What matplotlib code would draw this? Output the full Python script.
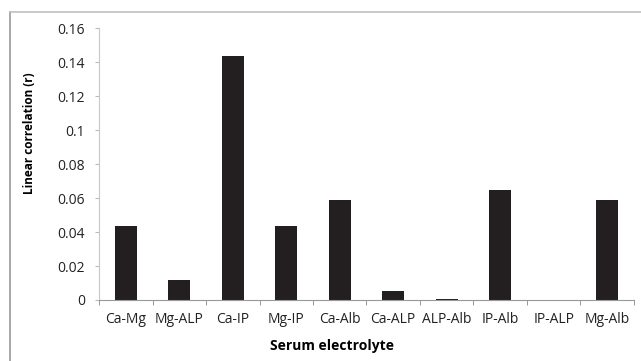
import matplotlib
matplotlib.use('Agg')
import matplotlib.pyplot as plt
from matplotlib.lines import Line2D
import numpy as np

pairs = ['Ca-Mg', 'Mg-ALP', 'Ca-IP', 'Mg-IP', 'Ca-Alb', 'Ca-ALP',
         'ALP-Alb', 'IP-Alb', 'IP-ALP', 'Mg-Alb']
corr_r = [0.0435, 0.0118, 0.1435, 0.0435, 0.0588, 0.0053,
          0.0005, 0.065, 0.0, 0.0588]
yticks = [0, 0.02, 0.04, 0.06, 0.08, 0.1, 0.12, 0.14, 0.16]
ylabels = ['0', '0.02', '0.04', '0.06', '0.08', '0.1', '0.12', '0.14', '0.16']

plt.rcParams['font.family'] = ['Open Sans', 'DejaVu Sans']

fig = plt.figure(figsize=(6.41, 3.61), dpi=100)
ax = fig.add_axes([0.1545, 0.169, 0.8345, 0.753])

x = np.arange(len(pairs))
ax.bar(x, corr_r, width=0.41, color='#231f20', linewidth=0)

ax.set_xlim(-0.5, len(pairs) - 0.5)
ax.set_ylim(0, 0.16)
ax.set_yticks(yticks)
ax.set_yticklabels(ylabels, fontsize=10, color='#222222')
ax.set_xticks(x)
ax.set_xticklabels(pairs, fontsize=10, color='#222222')
ax.set_xticks(np.arange(len(pairs) + 1) - 0.5, minor=True)
ax.tick_params(axis='x', which='major', length=0, pad=9)
ax.tick_params(axis='x', which='minor', length=3.5, color='#888888')
ax.tick_params(axis='y', length=3, color='#bbbbbb', pad=7)

for s in ['top', 'right']:
    ax.spines[s].set_visible(False)
ax.spines['left'].set_color('#c8c8c8')
ax.spines['bottom'].set_color('#999999')

ax.set_ylabel('Linear correlation (r)', fontsize=8.5, fontweight='bold')
ax.yaxis.set_label_coords(-0.118, 0.614)
ax.set_xlabel('Serum electrolyte', fontsize=10, fontweight='bold')
ax.xaxis.set_label_coords(0.436, -0.145)

# outer frame (top and left only)
fig.add_artist(Line2D([10/641, 10/641], [0, 1 - 12/361], transform=fig.transFigure,
                      color='#9a9a9a', lw=1.2))
fig.add_artist(Line2D([10/641, 1], [1 - 12/361, 1 - 12/361], transform=fig.transFigure,
                      color='#c0c0c0', lw=1.2))

fig.savefig('out.png', dpi=100)
